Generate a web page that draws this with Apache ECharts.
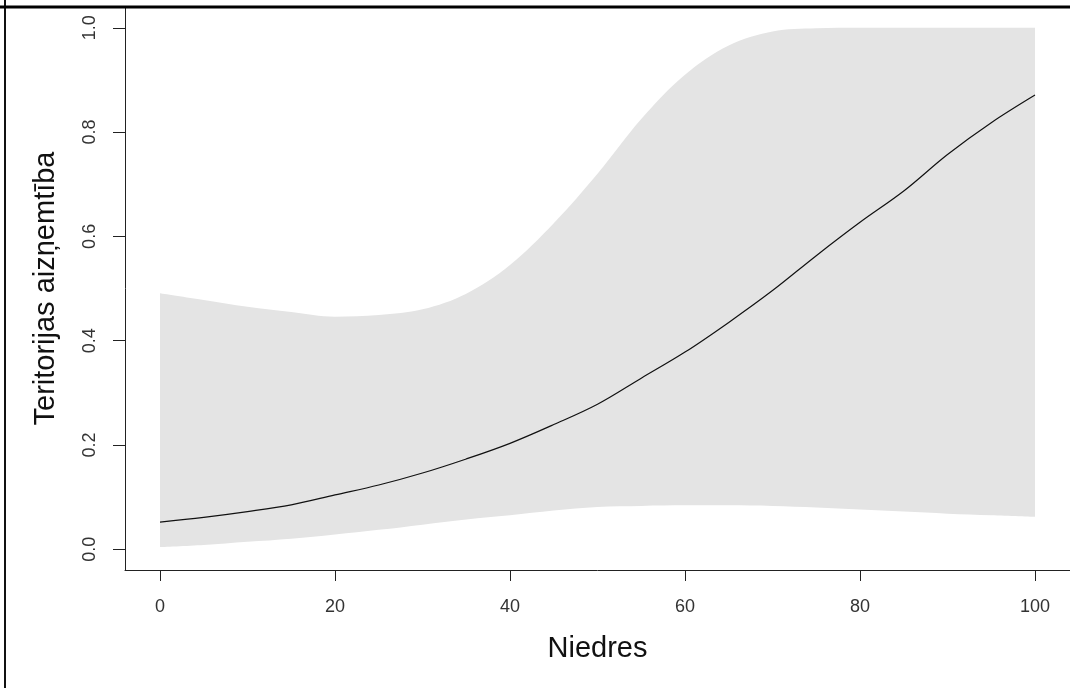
<!DOCTYPE html>
<html>
<head>
<meta charset="utf-8">
<script src="https://cdn.jsdelivr.net/npm/echarts@6/dist/echarts.min.js"></script>
<style>
  html, body { margin: 0; padding: 0; background: #fff; }
  #main { width: 1070px; height: 688px; }
</style>
</head>
<body>
<div id="main"></div>
<script>
// x positions (Niedres)
const xs = [0, 5, 10, 15, 20, 25, 30, 35, 40, 45, 50, 55, 60, 65, 70, 75, 80, 85, 90, 95, 100]
// fitted curve
const fit = [0.052, 0.061, 0.072, 0.085, 0.104, 0.123, 0.146, 0.173, 0.203, 0.239, 0.278,
  0.328, 0.378, 0.435, 0.496, 0.563, 0.627, 0.687, 0.757, 0.818, 0.871]
// confidence band
const upper = [0.491, 0.478, 0.465, 0.455, 0.446, 0.449, 0.460, 0.490, 0.545, 0.625, 0.720,
  0.825, 0.910, 0.966, 0.993, 0.999, 1.0, 1.0, 1.0, 1.0, 1.0]
const lower = [0.004, 0.008, 0.014, 0.020, 0.028, 0.037, 0.047, 0.057, 0.065, 0.074, 0.081,
  0.083, 0.084, 0.084, 0.083, 0.080, 0.076, 0.072, 0.068, 0.065, 0.062]
// tick labels
const xTicks = [0, 20, 40, 60, 80, 100]
const yTicks = [0, 0.2, 0.4, 0.6, 0.8, 1.0]

const font = 'Liberation Sans, Arial, sans-serif'
const myChart = echarts.init(document.getElementById('main'))

const option = {
  animation: false,
  backgroundColor: '#fff',
  grid: { left: 125, top: 7, width: 953, height: 563 },
  xAxis: {
    type: 'value',
    min: -4,
    max: 104,
    z: 10,
    name: 'Niedres',
    nameLocation: 'middle',
    nameGap: 64,
    nameTextStyle: { fontFamily: font, fontSize: 29, color: '#111' },
    splitLine: { show: false },
    axisLine: { onZero: false, lineStyle: { color: '#222', width: 1 } },
    axisTick: { customValues: xTicks, length: 11, lineStyle: { color: '#222' } },
    axisLabel: { customValues: xTicks, margin: 28, fontFamily: font, fontSize: 18, color: '#333' }
  },
  yAxis: {
    type: 'value',
    min: -0.04,
    max: 1.04,
    z: 10,
    name: 'Teritorijas aizņemtība',
    nameLocation: 'middle',
    nameGap: 65,
    nameTextStyle: { fontFamily: font, fontSize: 29, color: '#111' },
    splitLine: { show: false },
    axisLine: { show: true, onZero: false, lineStyle: { color: '#222', width: 1 } },
    axisTick: { show: true, customValues: yTicks, length: 12, lineStyle: { color: '#222' } },
    axisLabel: {
      customValues: yTicks,
      rotate: 90,
      margin: 26,
      fontFamily: font,
      fontSize: 18,
      color: '#333',
      formatter: v => v.toFixed(1)
    }
  },
  series: [
    // upper edge of band, filled down to the axis
    {
      type: 'line',
      data: xs.map((x, i) => [x, upper[i]]),
      symbol: 'none',
      smooth: 0.35,
      lineStyle: { width: 0 },
      areaStyle: { color: '#e4e4e4', opacity: 1, origin: 'start' },
      silent: true,
      z: 2
    },
    // lower edge of band, white fill below it
    {
      type: 'line',
      data: xs.map((x, i) => [x, lower[i]]),
      symbol: 'none',
      smooth: 0.35,
      lineStyle: { width: 0 },
      areaStyle: { color: '#fff', opacity: 1, origin: 'start' },
      silent: true,
      z: 3
    },
    {
      type: 'line',
      data: xs.map((x, i) => [x, fit[i]]),
      symbol: 'none',
      smooth: 0.35,
      lineStyle: { color: '#111', width: 1.2 },
      z: 5
    }
  ],
  graphic: [
    { type: 'line', z: 100, shape: { x1: 5, y1: 0, x2: 5, y2: 688 }, style: { stroke: '#111', lineWidth: 2 } },
    { type: 'line', z: 100, shape: { x1: 0, y1: 7, x2: 1070, y2: 7 }, style: { stroke: '#000', lineWidth: 3 } }
  ]
}

myChart.setOption(option)
</script>
</body>
</html>
